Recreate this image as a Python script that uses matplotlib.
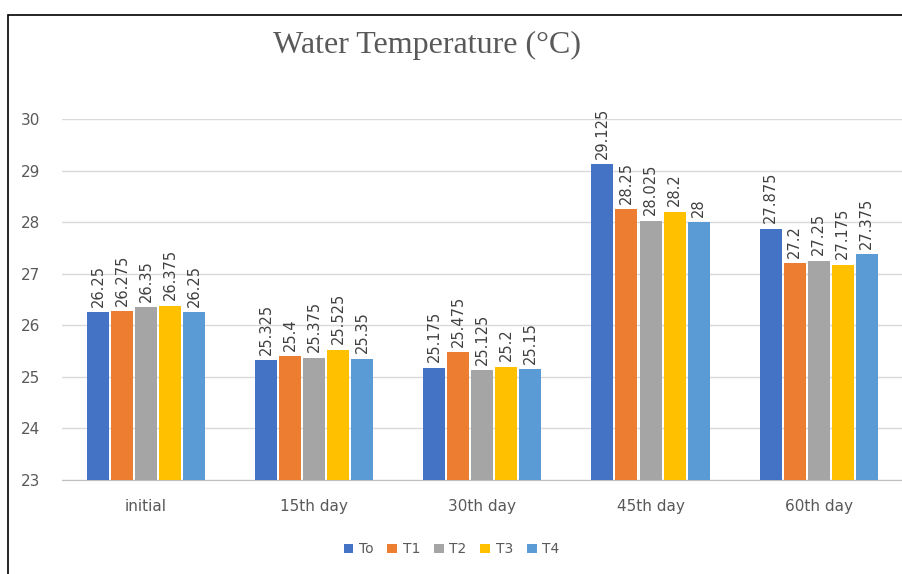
import numpy as np
import matplotlib
matplotlib.use("Agg")
import matplotlib.pyplot as plt
from matplotlib.patches import Rectangle

days = ["initial", "15th day", "30th day", "45th day", "60th day"]
series_names = ["To", "T1", "T2", "T3", "T4"]
To = [26.25, 25.325, 25.175, 29.125, 27.875]
T1 = [26.275, 25.4, 25.475, 28.25, 27.2]
T2 = [26.35, 25.375, 25.125, 28.025, 27.25]
T3 = [26.375, 25.525, 25.2, 28.2, 27.175]
T4 = [26.25, 25.35, 25.15, 28.0, 27.375]
colors = ["#4472C4", "#ED7D31", "#A5A5A5", "#FFC000", "#5B9BD5"]

fig = plt.figure(figsize=(9.03, 5.74), dpi=100)
ax = fig.add_axes([0.0687, 0.1638, 0.931, 0.6289])

x = np.arange(len(days))
pitch = 0.143
width = 0.131
for i, (name, vals) in enumerate(zip(series_names, [To, T1, T2, T3, T4])):
    pos = x + (i - 2) * pitch
    ax.bar(pos, np.array(vals) - 23, bottom=23, width=width, color=colors[i], label=name, zorder=3)
    for p, v in zip(pos, vals):
        ax.annotate(f"{v:g}", (p, v), xytext=(0, 4), textcoords="offset points",
                    rotation=90, ha="center", va="bottom", fontsize=10.5,
                    color="#404040", annotation_clip=False)

ax.set_ylim(23, 30)
ax.set_xlim(-0.5, len(days) - 0.5)
ax.set_yticks(range(23, 31))
ax.set_xticks(x)
ax.set_xticklabels(days)
ax.tick_params(axis="both", length=0, colors="#595959", labelsize=11)
ax.tick_params(axis="y", pad=16)
ax.tick_params(axis="x", pad=14)
ax.grid(axis="y", color="#D9D9D9", linewidth=1, zorder=0)
for s in ["top", "right", "left"]:
    ax.spines[s].set_visible(False)
ax.spines["bottom"].set_color("#BFBFBF")

fig.text(0.473, 0.92, "Water Temperature (°C)", ha="center", va="center",
         fontsize=23, color="#595959", family="Liberation Serif")

leg = fig.legend(loc="center", bbox_to_anchor=(0.5, 0.043), ncol=5, frameon=False,
                 fontsize=10, handlelength=0.7, handleheight=0.7, handletextpad=0.4,
                 columnspacing=1.0)
for t in leg.get_texts():
    t.set_color("#595959")

# outer frame (left and top edges visible)
fig.add_artist(Rectangle((8 / 903, -0.1), 1.2, 1 - 15 / 574 + 0.1, transform=fig.transFigure,
                         fill=False, edgecolor="#000000", linewidth=1.2))

fig.savefig("out.png", dpi=100)
